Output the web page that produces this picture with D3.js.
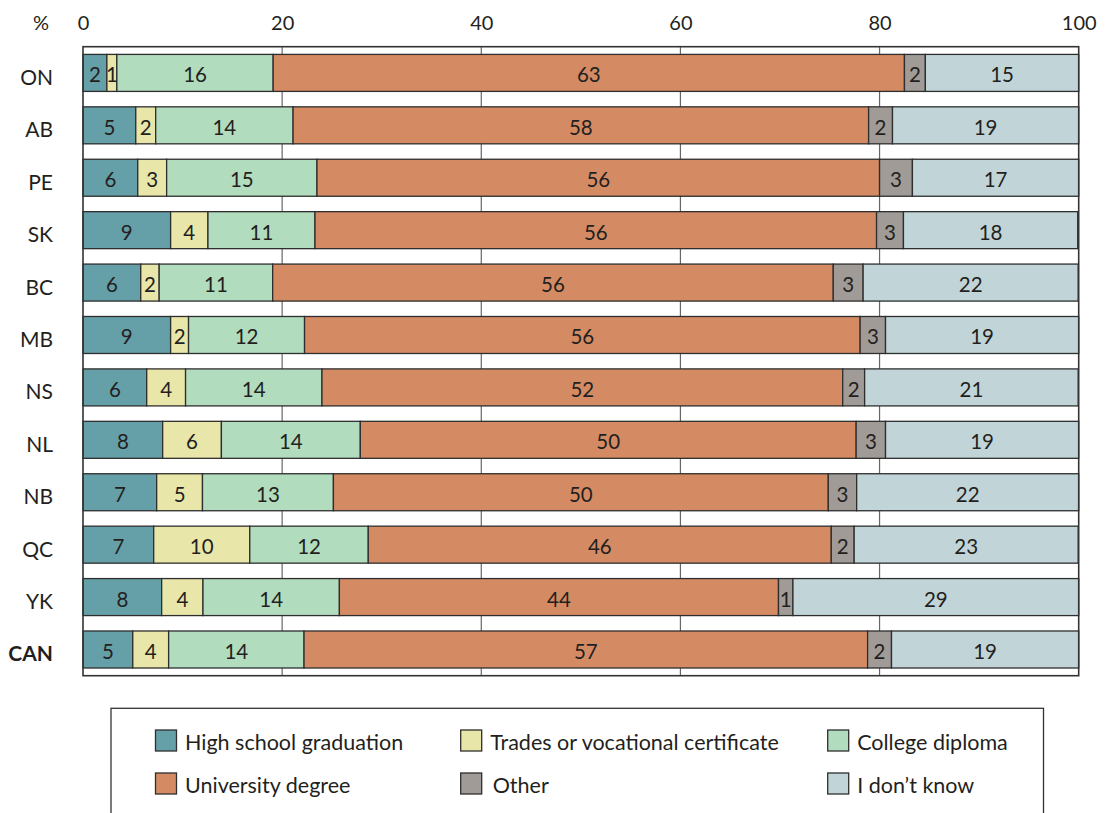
<!DOCTYPE html>
<html>
<head>
<meta charset="utf-8">
<script src="https://cdn.jsdelivr.net/npm/d3@7"></script>
<style>
  html, body { margin: 0; padding: 0; background: #fff; }
  svg { display: block; font-family: Lato, "Open Sans", sans-serif; }
</style>
</head>
<body>
<svg id="chart" width="1110" height="813"></svg>
<script>
const categories = ["ON","AB","PE","SK","BC","MB","NS","NL","NB","QC","YK","CAN"];
const seriesNames = ["High school graduation","Trades or vocational certificate","College diploma","University degree","Other","I don\u2019t know"];
const highSchool = [2.4,5.3,5.5,8.8,5.8,8.8,6.4,8.0,7.4,7.1,7.9,5.0];
const trades     = [1.0,2.0,2.9,3.75,1.85,1.8,3.9,5.9,4.6,9.65,4.15,3.6];
const college    = [15.7,13.8,15.1,10.75,11.4,11.65,13.7,13.95,13.15,11.9,13.7,13.6];
const university = [63.4,57.8,56.5,56.4,56.3,55.8,52.3,49.8,49.7,46.5,44.1,56.6];
const other      = [2.1,2.4,3.3,2.7,3.0,2.55,2.2,2.95,2.85,2.3,1.45,2.4];
const dontKnow   = [15.4,18.7,16.75,17.5,21.6,19.4,21.45,19.45,22.3,22.5,28.8,18.8];
const hsLabels      = [2,5,6,9,6,9,6,8,7,7,8,5];
const tradesLabels  = [1,2,3,4,2,2,4,6,5,10,4,4];
const collegeLabels = [16,14,15,11,11,12,14,14,13,12,14,14];
const univLabels    = [63,58,56,56,56,56,52,50,50,46,44,57];
const otherLabels   = [2,2,3,3,3,3,2,3,3,2,1,2];
const dkLabels      = [15,19,17,18,22,19,21,19,22,23,29,19];
const xTicks = [0,20,40,60,80,100];
const colors = ["#659fa8","#e8e6a9","#b2dcbe","#d48b64","#a19b97","#c1d5d9"];

const seriesValues = [highSchool, trades, college, university, other, dontKnow];
const seriesLabels = [hsLabels, tradesLabels, collegeLabels, univLabels, otherLabels, dkLabels];

const svg = d3.select("#chart");
const plotL = 83, plotR = 1078.7, plotT = 46.7, plotB = 675.7;
const x = d3.scaleLinear().domain([0,100]).range([plotL, plotR]);
const y = d3.scaleBand().domain(categories).range([plotT, plotB]).paddingInner(0.294).paddingOuter(0.147);
const textColor = "#231f20";

// gridlines
svg.append("g").selectAll("line").data(xTicks.slice(1,-1)).join("line")
  .attr("x1", d => x(d)).attr("x2", d => x(d))
  .attr("y1", plotT).attr("y2", plotB)
  .attr("stroke", "#666").attr("stroke-width", 1.2);

// axis labels
const ax = svg.append("g").attr("transform", `translate(0,29.5)`)
  .call(d3.axisTop(x).tickValues(xTicks).tickSize(0).tickPadding(0));
ax.select(".domain").remove();
ax.selectAll("text").attr("font-size", 20).attr("fill", textColor)
  .attr("font-family", "Lato, sans-serif").attr("dy", 0);
svg.append("text").attr("x", 41).attr("y", 29.5).attr("text-anchor", "middle")
  .attr("font-size", 20).attr("fill", textColor).text("%");

// stacked data
const rows = categories.map((c, i) => {
  let acc = 0;
  return seriesValues.map((arr, s) => {
    const v = arr[i];
    const seg = { cat: c, s, x0: acc, x1: Math.min(100, acc + v), label: seriesLabels[s][i] };
    acc += v;
    return seg;
  });
}).flat();

const g = svg.append("g");
g.selectAll("rect").data(rows).join("rect")
  .attr("x", d => x(d.x0))
  .attr("y", d => y(d.cat))
  .attr("width", d => x(d.x1) - x(d.x0))
  .attr("height", y.bandwidth())
  .attr("fill", d => colors[d.s])
  .attr("stroke", "#2e2e2e").attr("stroke-width", 1.3);

g.selectAll("text").data(rows).join("text")
  .attr("x", d => (x(d.x0) + x(d.x1)) / 2)
  .attr("y", d => y(d.cat) + y.bandwidth() / 2 + 9.5)
  .attr("text-anchor", "middle")
  .attr("font-size", 20.5).attr("fill", textColor)
  .text(d => d.label);

// category labels
svg.append("g").selectAll("text").data(categories).join("text")
  .attr("x", 53).attr("y", d => y(d) + y.bandwidth() / 2 + 12)
  .attr("text-anchor", "end").attr("font-size", 21).attr("fill", textColor)
  .attr("font-weight", d => d === "CAN" ? "bold" : "normal")
  .text(d => d);

// frame
svg.append("rect").attr("x", plotL).attr("y", plotT)
  .attr("width", plotR - plotL).attr("height", plotB - plotT)
  .attr("fill", "none").attr("stroke", "#333").attr("stroke-width", 1.6);

// legend
svg.append("rect").attr("x", 111).attr("y", 708.3).attr("width", 1043.5 - 111).attr("height", 140)
  .attr("fill", "none").attr("stroke", "#333").attr("stroke-width", 1.3);
const legendCols = [155.5, 460.7, 827.7];
const legendRows = [730, 773];
const lg = svg.append("g").selectAll("g").data(seriesNames).join("g")
  .attr("transform", (d, i) => `translate(${legendCols[i % 3]},${legendRows[Math.floor(i / 3)]})`);
lg.append("rect").attr("width", 21).attr("height", 21)
  .attr("fill", (d, i) => colors[i]).attr("stroke", "#2e2e2e").attr("stroke-width", 1.3);
lg.append("text").attr("x", (d, i) => i === 4 ? 32 : 29.5).attr("y", 19.5)
  .attr("font-size", 21.5).attr("fill", textColor).text(d => d);
</script>
</body>
</html>
